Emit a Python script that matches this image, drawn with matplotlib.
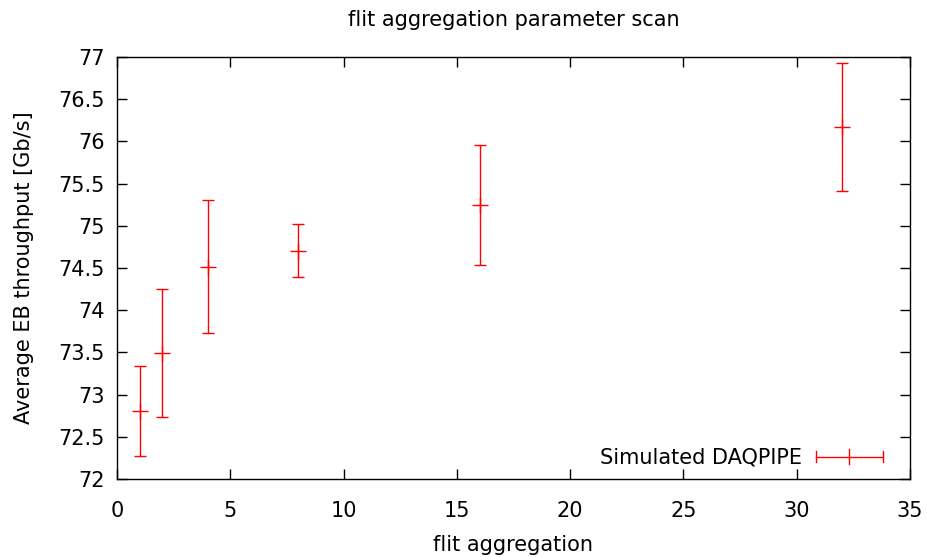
import matplotlib
matplotlib.use("Agg")
import matplotlib.pyplot as plt
from matplotlib.legend_handler import HandlerBase
from matplotlib.lines import Line2D

# flit aggregation factor vs. mean event-builder throughput
flit_aggregation = [1, 2, 4, 8, 16, 32]
throughput_mean = [72.81, 73.49, 74.51, 74.70, 75.25, 76.17]
throughput_low = [72.27, 72.73, 73.73, 74.39, 74.53, 75.41]
throughput_high = [73.34, 74.25, 75.30, 75.02, 75.96, 76.93]

x_ticks = [0, 5, 10, 15, 20, 25, 30, 35]
y_ticks = [72, 72.5, 73, 73.5, 74, 74.5, 75, 75.5, 76, 76.5, 77]

RED = "#ff0000"
FS = 15

plt.rcParams["font.family"] = ["DejaVu Sans"]


class HorizontalErrorHandler(HandlerBase):
    """Legend sample drawn as a horizontal bar with caps and a centre cross."""

    def create_artists(self, legend, orig_handle, xdescent, ydescent,
                       width, height, fontsize, trans):
        y = height / 2 - ydescent
        x0, x1 = -xdescent, -xdescent + width
        cap = 4.0
        cross = 5.5
        xm = (x0 + x1) / 2
        arts = [
            Line2D([x0, x1], [y, y], color=RED, lw=1.0),
            Line2D([x0, x0], [y - cap, y + cap], color=RED, lw=1.0),
            Line2D([x1, x1], [y - cap, y + cap], color=RED, lw=1.0),
            Line2D([xm, xm], [y - cross, y + cross], color=RED, lw=1.0),
        ]
        for a in arts:
            a.set_transform(trans)
        return arts


fig = plt.figure(figsize=(9.28, 5.57), dpi=100)
ax = fig.add_axes([117 / 928, 1 - 479 / 557, (910 - 117) / 928, (479 - 57) / 557])

lower_err = [m - lo for m, lo in zip(throughput_mean, throughput_low)]
upper_err = [hi - m for m, hi in zip(throughput_mean, throughput_high)]

cont = ax.errorbar(flit_aggregation, throughput_mean, yerr=[lower_err, upper_err],
                   fmt="+", color=RED, ecolor=RED, elinewidth=1.0, capsize=4,
                   capthick=1.0, markersize=12, markeredgewidth=1.0,
                   label="Simulated DAQPIPE")

ax.set_xlim(0, 35)
ax.set_ylim(72, 77)
ax.set_xticks(x_ticks)
ax.set_xticklabels([str(t) for t in x_ticks])
ax.set_yticks(y_ticks)
ax.set_yticklabels([f"{t:g}" for t in y_ticks])

ax.tick_params(direction="in", length=7, width=1.0, top=True, right=True,
               labelsize=FS, colors="black")
ax.tick_params(axis="x", pad=16)
ax.tick_params(axis="y", pad=9)
for s in ax.spines.values():
    s.set_linewidth(1.0)

ax.set_xlabel("flit aggregation", fontsize=FS, labelpad=10)
ax.set_ylabel("Average EB throughput [Gb/s]", fontsize=FS, labelpad=17)
ax.set_title("flit aggregation parameter scan", fontsize=FS, pad=22)

ax.legend(handles=[cont], labels=["Simulated DAQPIPE"],
          handler_map={type(cont): HorizontalErrorHandler()},
          loc="center right", bbox_to_anchor=(1 - 17 / 793, 21 / 422),
          borderpad=0, frameon=False, fontsize=FS,
          handlelength=3.2, handletextpad=0.65, markerfirst=False)

fig.savefig("out.png", dpi=100)
